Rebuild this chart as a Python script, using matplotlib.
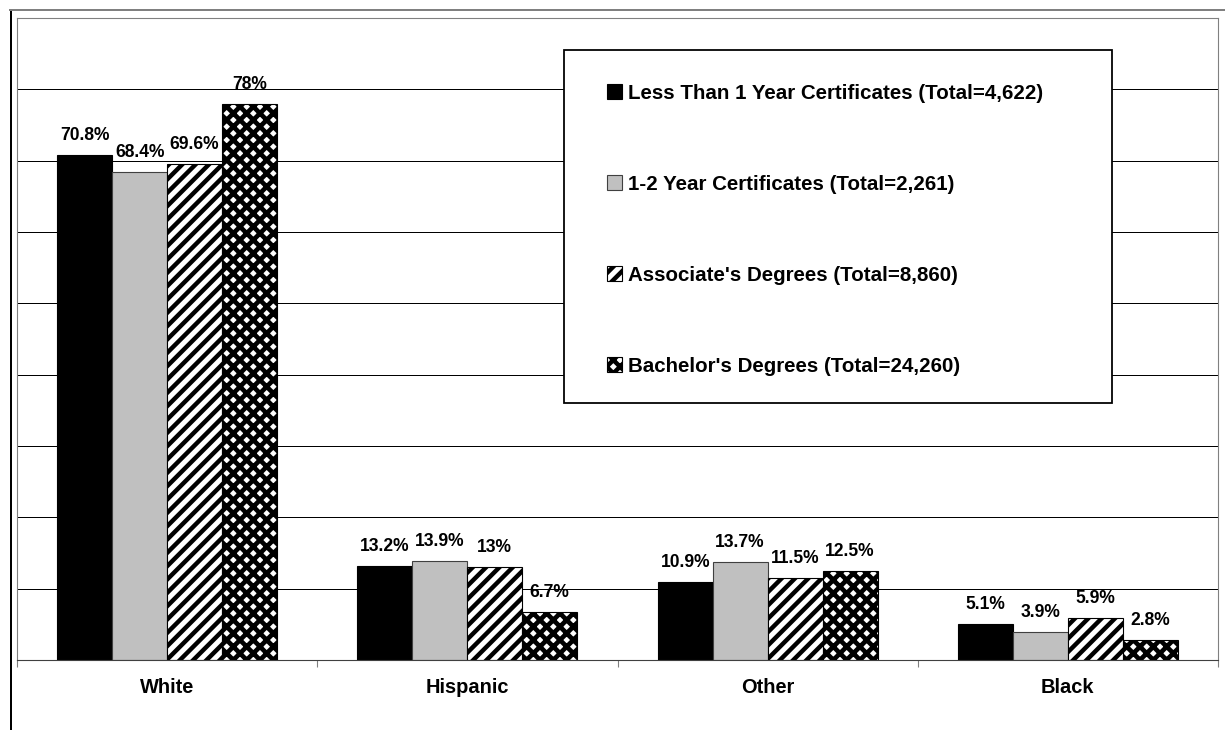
import numpy as np
import matplotlib
matplotlib.use("Agg")
import matplotlib.pyplot as plt
from matplotlib.lines import Line2D
from matplotlib.patches import Rectangle

# data (percent)
categories = ["White", "Hispanic", "Other", "Black"]
series_names = [
    "Less Than 1 Year Certificates (Total=4,622)",
    "1-2 Year Certificates (Total=2,261)",
    "Associate's Degrees (Total=8,860)",
    "Bachelor's Degrees (Total=24,260)",
]
less_than_1yr = [70.8, 13.2, 10.9, 5.1]
one_two_yr = [68.4, 13.9, 13.7, 3.9]
associates = [69.6, 13, 11.5, 5.9]
bachelors = [78, 6.7, 12.5, 2.8]

W, H, DPI = 1225, 730, 80
plt.rcParams['font.family'] = ['Liberation Sans', 'DejaVu Sans']
plt.rcParams['font.weight'] = 'bold'
plt.rcParams['hatch.linewidth'] = 4.0

fig = plt.figure(figsize=(W / DPI, H / DPI), dpi=DPI)
ax = fig.add_axes([17 / W, 1 - 660 / H, (1218 - 17) / W, (660 - 18) / H])

styles = [
    dict(facecolor='black', edgecolor='black', linewidth=1),
    dict(facecolor='#c0c0c0', edgecolor='#404040', linewidth=1),
    dict(facecolor='white', edgecolor='black', linewidth=1, hatch='//'),
    dict(facecolor='white', edgecolor='black', linewidth=1, hatch='xx'),
]
hatch_lw = [None, None, 4.0, 4.2]

x = np.arange(len(categories))
width = 0.183
all_series = [less_than_1yr, one_two_yr, associates, bachelors]
containers = []
for i, (vals, st) in enumerate(zip(all_series, styles)):
    pos = x + (i - 1.5) * width
    bars = ax.bar(pos, vals, width, zorder=2, **st)
    if hatch_lw[i] is not None:
        for p in bars:
            if hasattr(p, 'set_hatch_linewidth'):
                p.set_hatch_linewidth(hatch_lw[i])
    containers.append(bars)
    for px, v in zip(pos, vals):
        ax.annotate(f"{v:g}%", (px, v), xytext=(0, 13.5), textcoords='offset points',
                    ha='center', va='baseline', fontsize=15.8, fontweight='bold')

ax.set_xlim(-0.5, 3.5)
ax.set_ylim(0, 90)
ax.set_yticks(np.arange(10, 90, 10))
ax.tick_params(axis='y', length=0, labelleft=False)
ax.grid(axis='y', color='black', linewidth=0.9)
ax.set_axisbelow(True)

ax.set_xticks(x, categories)
ax.tick_params(axis='x', which='major', length=0, pad=16, labelsize=18)
ax.set_xticks(np.arange(-0.5, 4, 1), minor=True)
ax.tick_params(axis='x', which='minor', length=6, width=1, color='#808080', direction='out')

for s in ['left', 'top', 'right']:
    ax.spines[s].set_color('#808080')
    ax.spines[s].set_linewidth(1)
ax.spines['bottom'].set_color('#404040')
ax.spines['bottom'].set_linewidth(1)

# outer chart frame (cropped at right and bottom)
fig.add_artist(Line2D([11 / W, 11 / W], [0, 1 - 10 / H], color='black', linewidth=1.8))
fig.add_artist(Line2D([10 / W, 1], [1 - 10 / H, 1 - 10 / H], color='#808080', linewidth=1.8))

# legend box
box = Rectangle((564 / W, 1 - 403 / H), (1112 - 564) / W, (403 - 50) / H,
                transform=fig.transFigure, facecolor='white', edgecolor='black',
                linewidth=1.6, zorder=3)
fig.add_artist(box)
leg = fig.legend(containers, series_names, loc='upper left',
                 bbox_to_anchor=(607 / W, 1 - 84 / H), frameon=False,
                 borderpad=0, borderaxespad=0, handlelength=0.75, handleheight=0.75,
                 handletextpad=0.25, labelspacing=3.5,
                 prop={'weight': 'bold', 'size': 18.5})
leg.set_zorder(4)

fig.savefig("out.png", dpi=DPI)
